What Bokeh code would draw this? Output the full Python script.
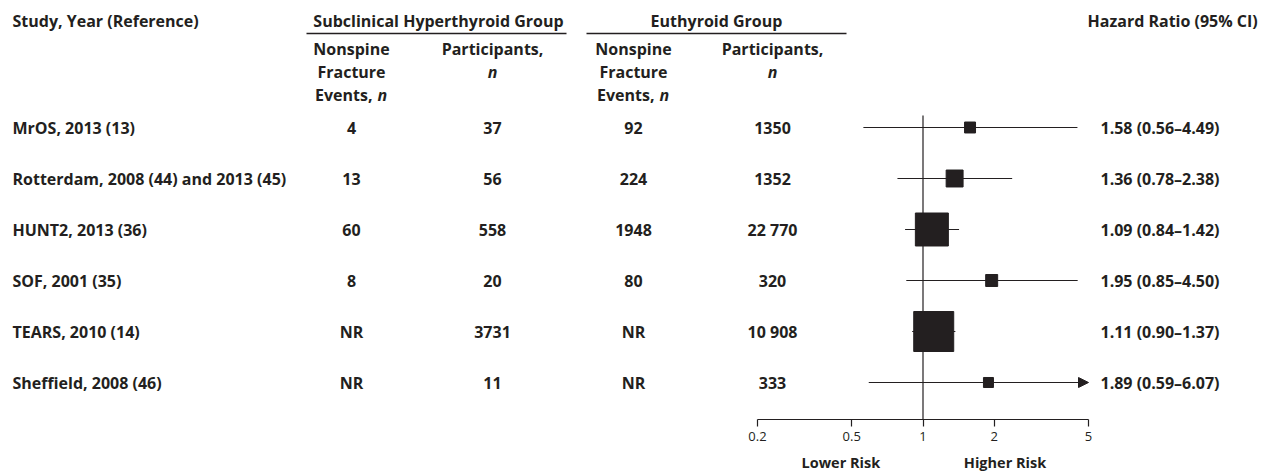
import math
from bokeh.plotting import figure
from bokeh.models import Range1d, LinearScale, LogAxis, FixedTicker, Arrow, NormalHead
from bokeh.core.properties import value
from bokeh.embed import file_html
from bokeh.resources import INLINE

# ---------------- data ----------------
studies = ["MrOS, 2013 (13)", "Rotterdam, 2008 (44) and 2013 (45)", "HUNT2, 2013 (36)",
           "SOF, 2001 (35)", "TEARS, 2010 (14)", "Sheffield, 2008 (46)"]
sub_events = ["4", "13", "60", "8", "NR", "NR"]
sub_participants = [37, 56, 558, 20, 3731, 11]
eu_events = ["92", "224", "1948", "80", "NR", "NR"]
eu_participants = [1350, 1352, 22770, 320, 10908, 333]
hr = [1.58, 1.36, 1.09, 1.95, 1.11, 1.89]
ci_low = [0.56, 0.78, 0.84, 0.85, 0.90, 0.59]
ci_high = [4.49, 2.38, 1.42, 4.50, 1.37, 6.07]
weights = [3.6, 8.6, 32.6, 4.3, 47.9, 3.0]   # relative study weight (box area)
tick_values = [0.2, 0.5, 1, 2, 5]
tick_labels = ["0.2", "0.5", "1", "2", "5"]
risk_positions = [0.45, 2.22]
risk_labels = ["Lower Risk", "Higher Risk"]

# ---------------- layout ----------------
INK = "#231f20"
FONT_NAME = "Open Sans"
FONT = value(FONT_NAME)
FS = "16px"
W, H = 1277, 419          # frame size in px
AX_MIN, AX_MAX = 0.2, 5.0
px_min, px_max = 757, 1088  # frame px of 0.2 and 5
dec_per_px = (math.log10(AX_MAX) - math.log10(AX_MIN)) / (px_max - px_min)
x_start = 10 ** (math.log10(AX_MIN) - px_min * dec_per_px)
x_end = 10 ** (math.log10(AX_MAX) + (W - px_max) * dec_per_px)

row_y0, row_dy = 127, 51
rows_y = [row_y0 + i * row_dy for i in range(len(studies))]

def fmt_n(v):
    s = str(v)
    if v >= 10000:
        s = s[:-3] + " " + s[-3:]
    return s

p = figure(frame_width=W, frame_height=H, x_axis_type="log",
           x_range=Range1d(x_start, x_end), y_range=Range1d(H, 0),
           x_axis_location=None, y_axis_location=None,
           toolbar_location=None, output_backend="svg",
           min_border_left=0, min_border_right=0, min_border_top=0, min_border_bottom=0,
           outline_line_color=None, background_fill_color="white")
p.grid.visible = False
p.extra_x_ranges = {"px": Range1d(0, W)}
p.extra_x_scales = {"px": LinearScale()}

def txt(x, y, t, align="left", size=FS, style="bold", color=INK):
    p.text(x=x, y=y, text=t, x_range_name="px", text_font=FONT, text_font_size=size,
           text_font_style=style, text_align=align, text_baseline="middle", text_color=color)

# column positions (page px)
c_study = 12
c_se, c_sp, c_ee, c_ep = 351, 492, 633, 772
c_hr = 1100

# headers
txt([c_study], [20], ["Study, Year (Reference)"])
txt([438, 716], [20, 20], ["Subclinical Hyperthyroid Group", "Euthyroid Group"], align="center")
txt([1087], [20], ["Hazard Ratio (95% CI)"])
p.segment(x0=[306, 586], x1=[566, 846], y0=[33, 33], y1=[33, 33], x_range_name="px",
          line_color=INK, line_width=1.3)

for c in (c_se, c_ee):
    txt([c, c], [48, 71], ["Nonspine", "Fracture"], align="center")
    txt([c + 21], [94], ["Events,"], align="right")
    txt([c + 26], [94], ["n"], align="left", style="bold italic")
for c in (c_sp, c_ep):
    txt([c], [48], ["Participants,"], align="center")
    txt([c], [71], ["n"], align="center", style="bold italic")

# table rows
txt([c_study] * len(studies), rows_y, studies)
txt([c_se] * 6, rows_y, sub_events, align="center")
txt([c_sp] * 6, rows_y, [fmt_n(v) for v in sub_participants], align="center")
txt([c_ee] * 6, rows_y, eu_events, align="center")
txt([c_ep] * 6, rows_y, [fmt_n(v) for v in eu_participants], align="center")
hr_text = [f"{h:.2f} ({l:.2f}\u2013{u:.2f})" for h, l, u in zip(hr, ci_low, ci_high)]
txt([c_hr] * 6, rows_y, hr_text)

# reference line at HR = 1
p.segment(x0=[1], x1=[1], y0=[115], y1=[H], line_color=INK, line_width=1.2)

# confidence intervals
seg_x0, seg_x1, seg_y = [], [], []
for l, u, y in zip(ci_low, ci_high, rows_y):
    if u <= AX_MAX:
        seg_x0.append(l); seg_x1.append(u); seg_y.append(y)
    else:
        p.add_layout(Arrow(end=NormalHead(size=10, fill_color=INK, line_color=INK, line_width=1),
                           x_start=l, y_start=y, x_end=AX_MAX, y_end=y,
                           line_color=INK, line_width=1.2))
p.segment(x0=seg_x0, x1=seg_x1, y0=seg_y, y1=seg_y, line_color=INK, line_width=1.2)

# boxes (side proportional to sqrt of weight)
wmax = max(weights)
sizes = [40 * math.sqrt(w / wmax) for w in weights]
p.scatter(x=hr, y=rows_y, size=sizes, marker="square", fill_color=INK, line_color=INK)

# axes
ax = LogAxis(bounds=(AX_MIN, AX_MAX), ticker=FixedTicker(ticks=tick_values),
             major_label_overrides={t: l for t, l in zip(tick_values, tick_labels)},
             minor_tick_line_color=None, major_tick_in=0, major_tick_out=7,
             axis_line_color=INK, major_tick_line_color=INK, axis_line_width=1.2,
             major_tick_line_width=1.2,
             major_label_text_font=FONT_NAME, major_label_text_font_size="13px",
             major_label_text_color=INK, major_label_standoff=5)
p.add_layout(ax, "below")
ax2 = LogAxis(ticker=FixedTicker(ticks=risk_positions),
              major_label_overrides={t: l for t, l in zip(risk_positions, risk_labels)},
              axis_line_color=None, major_tick_line_color=None, minor_tick_line_color=None,
              major_tick_in=0, major_tick_out=0,
              major_label_text_font=FONT_NAME, major_label_text_font_size="14.5px",
              major_label_text_font_style="bold", major_label_text_color=INK,
              major_label_standoff=9)
p.add_layout(ax2, "below")

open("out.html", "w").write(file_html(p, INLINE))
